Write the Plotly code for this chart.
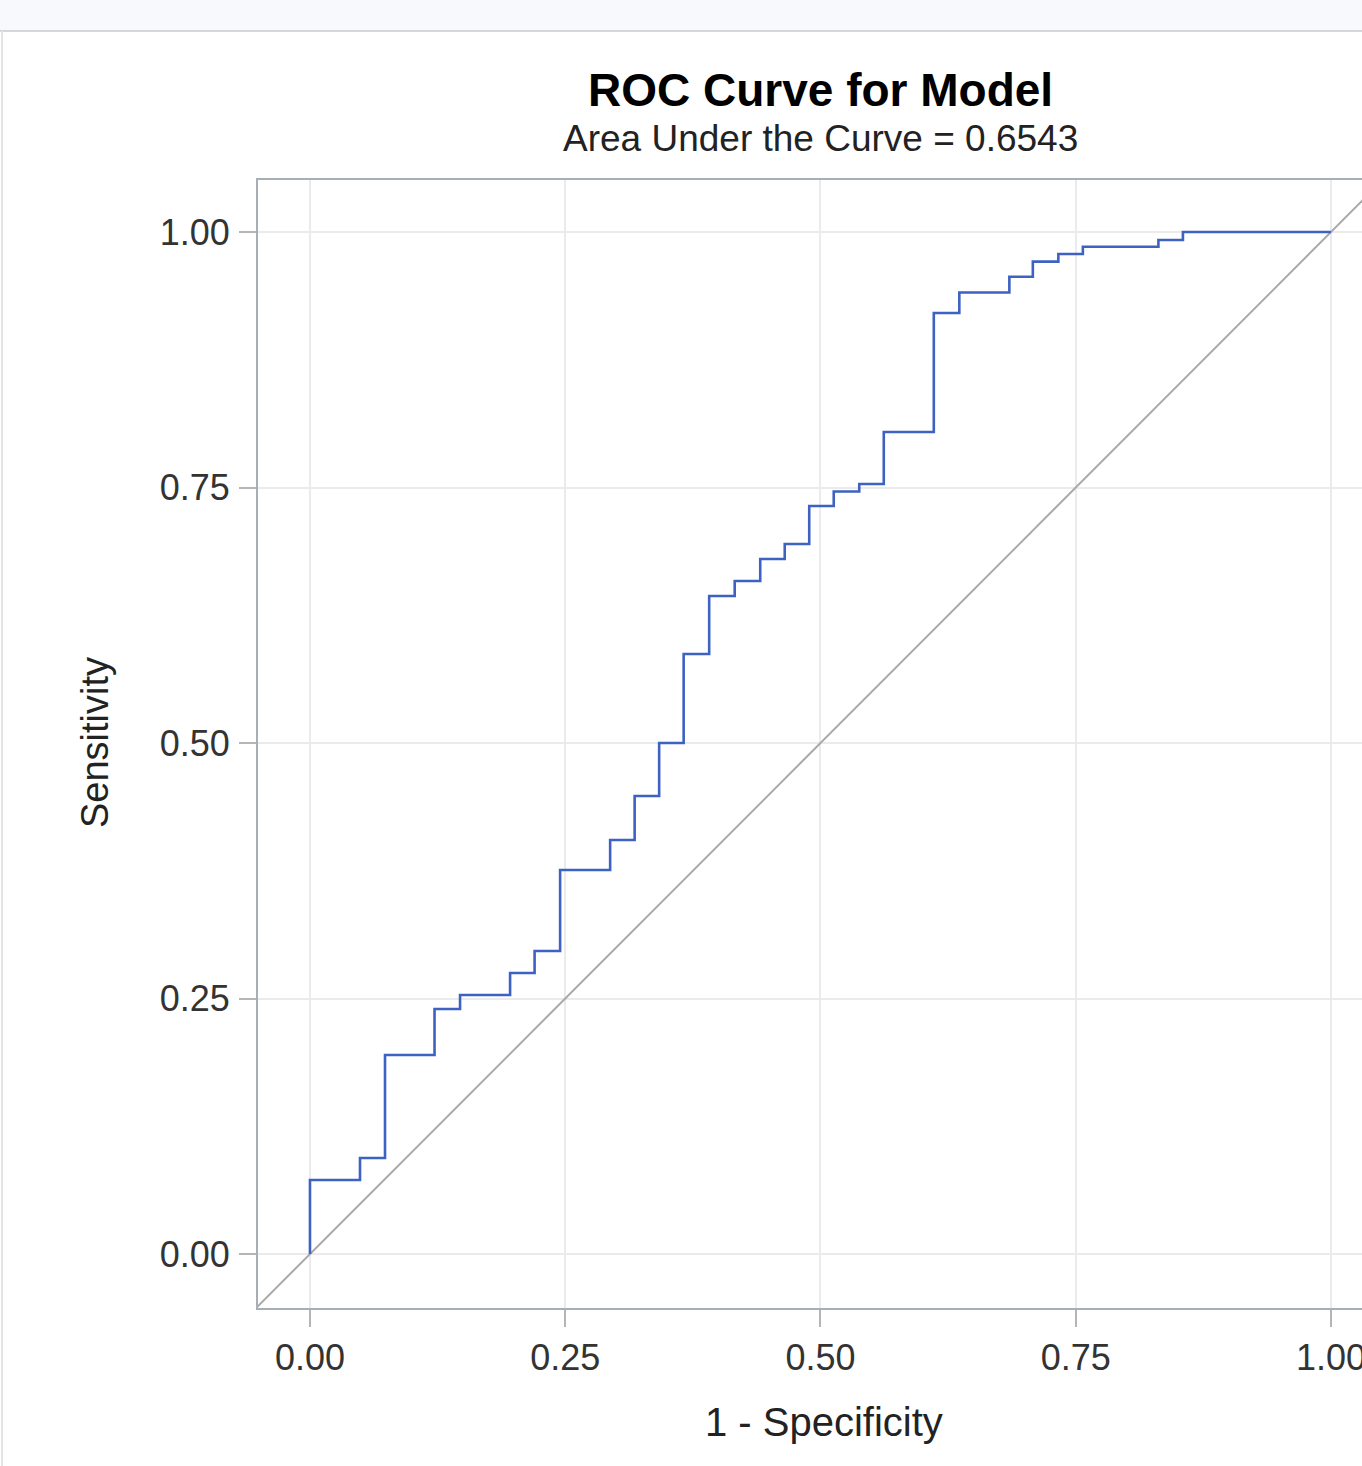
import plotly.graph_objects as go

# ROC step curve points (1 - Specificity, Sensitivity)
fpr = [0.0, 0.0, 0.049, 0.049, 0.0735, 0.0735, 0.122, 0.122, 0.147, 0.147,
       0.196, 0.196, 0.220, 0.220, 0.245, 0.245, 0.294, 0.294, 0.318, 0.318,
       0.342, 0.342, 0.366, 0.366, 0.391, 0.391, 0.416, 0.416, 0.441, 0.441,
       0.465, 0.465, 0.489, 0.489, 0.513, 0.513, 0.538, 0.538, 0.562, 0.562,
       0.611, 0.611, 0.636, 0.636, 0.685, 0.685, 0.708, 0.708, 0.733, 0.733,
       0.757, 0.757, 0.831, 0.831, 0.855, 0.855, 1.0]
tpr = [0.0, 0.0724, 0.0724, 0.0939, 0.0939, 0.1947, 0.1947, 0.2397, 0.2397, 0.2534,
       0.2534, 0.2750, 0.2750, 0.2965, 0.2965, 0.3757, 0.3757, 0.4051, 0.4051, 0.4481,
       0.4481, 0.5000, 0.5000, 0.5871, 0.5871, 0.6438, 0.6438, 0.6585, 0.6585, 0.6800,
       0.6800, 0.6947, 0.6947, 0.7319, 0.7319, 0.7461, 0.7461, 0.7534, 0.7534, 0.8043,
       0.8043, 0.9207, 0.9207, 0.9408, 0.9408, 0.9563, 0.9563, 0.9710, 0.9710, 0.9785,
       0.9785, 0.9856, 0.9856, 0.9922, 0.9922, 1.0, 1.0]

diag = [-0.1, 1.1]
tick_vals = [0.0, 0.25, 0.5, 0.75, 1.0]
tick_text = ["0.00", "0.25", "0.50", "0.75", "1.00"]

title_text = "ROC Curve for Model"
subtitle_text = "Area Under the Curve = 0.6543"
x_title = "1 - Specificity"
y_title = "Sensitivity"

W, H = 1362, 1466
L, R, T, B = 258, 0, 180, 158
pw = W - L - R
ph = H - T - B


def px_x(p):
    return (p - L) / pw


def px_y(p):
    return (H - B - p) / ph


fig = go.Figure()
fig.add_trace(go.Scatter(x=diag, y=diag, mode="lines",
                         line=dict(color="#a9a9a9", width=2), hoverinfo="skip",
                         showlegend=False))
fig.add_trace(go.Scatter(x=fpr, y=tpr, mode="lines",
                         line=dict(color="#3d62c2", width=2.6),
                         showlegend=False))

font_fam = "Liberation Sans, Arial, sans-serif"

axis_common = dict(
    tickvals=tick_vals, ticktext=tick_text, showgrid=True, gridcolor="#ebebeb",
    gridwidth=2, zeroline=False, showline=True, linecolor="#a7aeb5", linewidth=2,
    ticks="outside", ticklen=17, tickcolor="#b5b5b5", tickwidth=2,
    tickfont=dict(family=font_fam, size=36, color="#333333"),
    ticklabeloverflow="allow", automargin=False,
)

fig.update_layout(
    width=W, height=H,
    margin=dict(l=L, r=R, t=T, b=B, autoexpand=False),
    paper_bgcolor="white", plot_bgcolor="white",
    xaxis=dict(range=[-0.0509, 1.0304], mirror=True, ticklabelstandoff=0, **axis_common),
    yaxis=dict(range=[-0.0528, 1.0509], mirror=False, ticklabelstandoff=2, **axis_common),
    shapes=[
        dict(type="rect", xref="paper", yref="paper", x0=px_x(0), x1=px_x(W), y0=px_y(30), y1=px_y(0),
             fillcolor="#f8f9fc", line=dict(width=0), layer="below"),
        dict(type="line", xref="paper", yref="paper", x0=px_x(0), x1=px_x(W), y0=px_y(31), y1=px_y(31),
             line=dict(color="#d4d6da", width=2)),
        dict(type="line", xref="paper", yref="paper", x0=px_x(2), x1=px_x(2), y0=px_y(31), y1=px_y(H),
             line=dict(color="#e4e4e4", width=2)),
    ],
)

fig.add_annotation(text="<b>" + title_text + "</b>", x=0.5, xref="x", y=px_y(90), yref="paper",
                   showarrow=False, xanchor="center", yanchor="middle",
                   font=dict(family=font_fam, size=46, color="#000000"))
fig.add_annotation(text=subtitle_text, x=0.5, xref="x", y=px_y(138), yref="paper",
                   showarrow=False, xanchor="center", yanchor="middle",
                   font=dict(family=font_fam, size=37, color="#222222"))
fig.add_annotation(text=x_title, x=0.503, xref="x", y=px_y(1422), yref="paper",
                   showarrow=False, xanchor="center", yanchor="middle",
                   font=dict(family=font_fam, size=40, color="#222222"))
fig.add_annotation(text=y_title, x=px_x(95), xref="paper", y=0.5, yref="y",
                   showarrow=False, xanchor="center", yanchor="middle", textangle=-90,
                   font=dict(family=font_fam, size=38, color="#222222"))

fig.write_html("out.html")
